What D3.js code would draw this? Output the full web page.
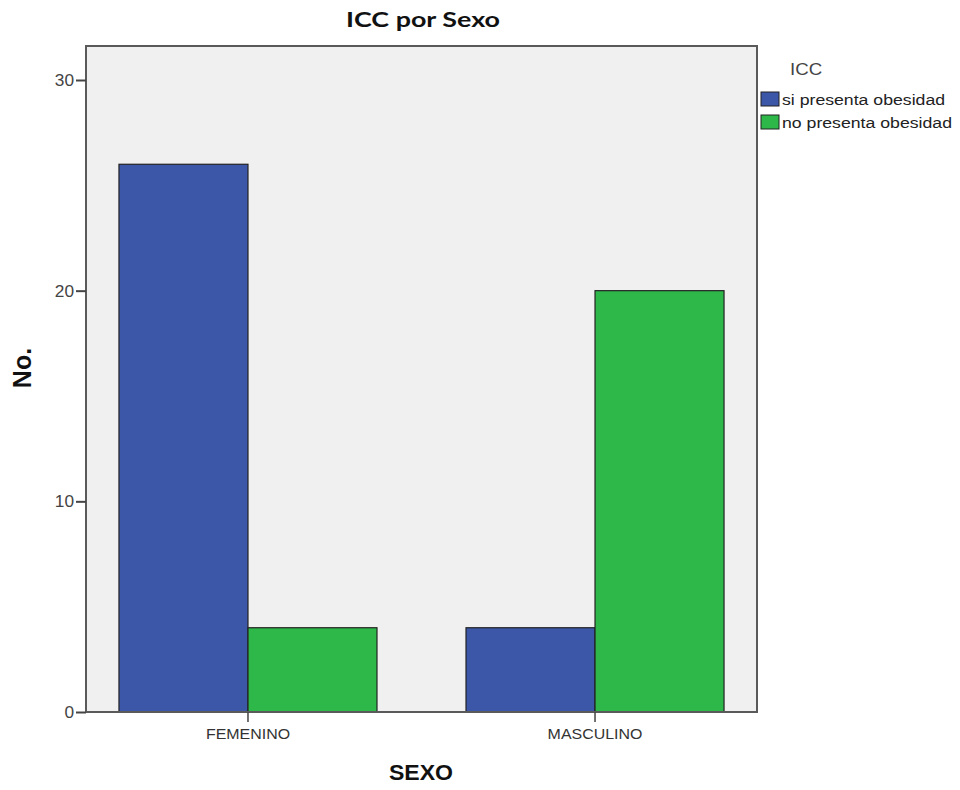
<!DOCTYPE html>
<html><head><meta charset="utf-8">
<script src="https://cdn.jsdelivr.net/npm/d3@7"></script>
<style>body{margin:0;background:#fff}</style>
</head><body>
<svg id="c" width="960" height="790"></svg>
<script>
const categories = ["FEMENINO", "MASCULINO"];
const series = ["si presenta obesidad", "no presenta obesidad"];
const siValues = [26, 4];
const noValues = [4, 20];
const yTicks = [0, 10, 20, 30];
const colors = ["#3c56a8", "#2eb84a"];

const svg = d3.select("#c");
const L = 86, R = 757, T = 46, B = 712;
const SANS = "Liberation Sans, Arial, sans-serif";

svg.append("rect").attr("x", L).attr("y", T).attr("width", R - L).attr("height", B - T)
  .attr("fill", "#f0f0f0");

const y = d3.scaleLinear().domain([0, 30]).range([B, 80]);
const x0 = d3.scaleBand().domain(categories).range([L, R]).paddingInner(0.2565).paddingOuter(0.095);
const x1 = d3.scaleBand().domain(series).range([0, x0.bandwidth()]);

const rows = categories.map((c, i) => ({c, vals: [siValues[i], noValues[i]]}));
const g = svg.append("g");
rows.forEach(r => {
  r.vals.forEach((v, j) => {
    g.append("rect")
      .attr("x", x0(r.c) + x1(series[j]))
      .attr("y", y(v))
      .attr("width", x1.bandwidth())
      .attr("height", y(0) - y(v))
      .attr("fill", colors[j])
      .attr("stroke", "#222").attr("stroke-width", 1.2);
  });
});

// frame
svg.append("rect").attr("x", L).attr("y", T).attr("width", R - L).attr("height", B - T)
  .attr("fill", "none").attr("stroke", "#5a5a5a").attr("stroke-width", 2);

// y axis
const ya = svg.append("g").attr("transform", `translate(${L},0)`)
  .call(d3.axisLeft(y).tickValues(yTicks).tickSize(10).tickPadding(2).tickFormat(d3.format("d")));
ya.select(".domain").remove();
ya.selectAll("line").attr("stroke", "#444").attr("stroke-width", 2);
ya.selectAll("text").attr("font-family", SANS).attr("font-size", 16).attr("fill", "#444")
  .attr("x", null).attr("dy", "0.34em").attr("transform", "translate(-12,0) scale(1.08,1)");

// x axis
const xa = svg.append("g").attr("transform", `translate(0,${B})`)
  .call(d3.axisBottom(x0).tickSize(10).tickPadding(4));
xa.select(".domain").remove();
xa.selectAll("line").attr("stroke", "#444").attr("stroke-width", 1.5);
xa.selectAll("text").attr("font-family", SANS).attr("font-size", 14).attr("fill", "#333")
  .attr("y", null).attr("dy", null).attr("transform", "translate(0,27) scale(1.14,1)");

function stext(x, yy, sx, txt) {
  return svg.append("text").attr("transform", `translate(${x},${yy}) scale(${sx},1)`).text(txt);
}

// titles
stext(423, 27, 1.28, "ICC por Sexo").attr("text-anchor", "middle")
  .attr("font-family", "Lato, 'Open Sans', sans-serif").attr("font-weight", "bold").attr("font-size", 21)
  .attr("fill", "#111");
svg.append("text").attr("transform", "translate(31,368) rotate(-90)").attr("text-anchor", "middle")
  .attr("font-family", SANS).attr("font-weight", "bold").attr("font-size", 25)
  .attr("fill", "#111").text("No.");
stext(421, 780, 1.05, "SEXO").attr("text-anchor", "middle")
  .attr("font-family", SANS).attr("font-weight", "bold").attr("font-size", 22)
  .attr("fill", "#111");

// legend
stext(790, 75, 1.1, "ICC").attr("font-family", SANS).attr("font-size", 17).attr("fill", "#444");
series.forEach((s, i) => {
  const yy = 92 + i * 23;
  svg.append("rect").attr("x", 761).attr("y", yy).attr("width", 18).attr("height", 14)
    .attr("fill", colors[i]).attr("stroke", "#222").attr("stroke-width", 1);
  stext(782, yy + 13, 1.22, s).attr("font-family", SANS).attr("font-size", 14.5).attr("fill", "#222");
});
</script>
</body></html>
